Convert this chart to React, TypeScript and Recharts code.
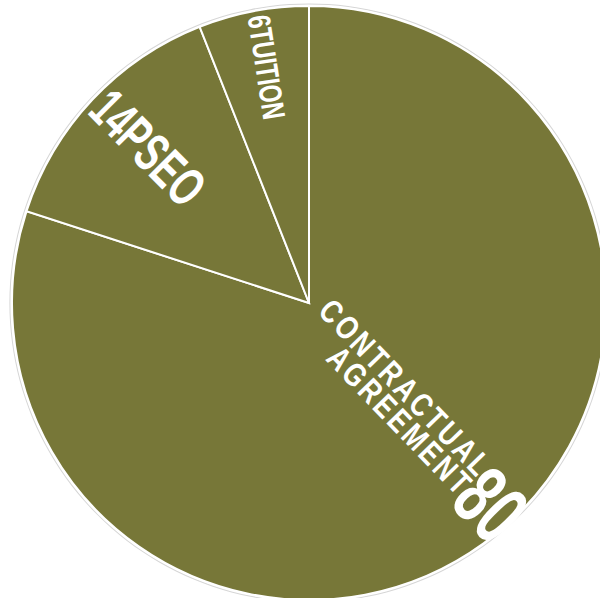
import { PieChart, Pie, Cell } from "recharts";

const categories = ["CONTRACTUAL AGREEMENT", "PSEO", "TUITION"];
const shares = [80, 14, 6];

const rows = categories.map((name, i) => ({ name, value: shares[i] }));
const ring = [{ name: "ring", value: 1 }];

const OLIVE = "#777738";
const FONT = "'Liberation Sans', Arial, sans-serif";

// small nudges so the labels sit like the reference
const rotTweak: Record<string, number> = {
  "CONTRACTUAL AGREEMENT": -8,
  PSEO: 2,
  TUITION: 2,
};

// condensed text: squeeze horizontally inside the rotated frame
const Squeezed = ({ x, y, sx, size, anchor, spacing, children }: any) => (
  <text
    x={x / sx}
    y={y}
    transform={`scale(${sx},1)`}
    fontSize={size}
    letterSpacing={spacing ? spacing / sx : undefined}
    textAnchor={anchor}
  >
    {children}
  </text>
);

const renderLabel = (props: any) => {
  const { cx, cy, midAngle, outerRadius, name, value, percent } = props;
  const big = percent > 0.5;
  const outward = Math.cos((midAngle * Math.PI) / 180) >= 0;
  const rot = (outward ? -midAngle : 180 - midAngle) + (rotTweak[name] ?? 0);

  if (big) {
    const words = String(name).split(" ");
    return (
      <g transform={`translate(${cx},${cy}) rotate(${rot})`} fill="#fff" fontFamily={FONT} fontWeight="bold">
        <Squeezed x={outerRadius - 52} y={1} sx={0.79} size={33} spacing={3} anchor="end">
          {words[0]}
        </Squeezed>
        <Squeezed x={outerRadius - 52} y={28} sx={0.79} size={33} spacing={3} anchor="end">
          {words[1]}
        </Squeezed>
        <Squeezed x={outerRadius - 56} y={39} sx={0.64} size={86} anchor="start">
          {value}
        </Squeezed>
      </g>
    );
  }

  const small = percent < 0.1;
  return (
    <g transform={`translate(${cx},${cy}) rotate(${rot})`} fill="#fff" fontFamily={FONT} fontWeight="bold">
      <Squeezed
        x={-outerRadius + 5}
        y={small ? 17 : 24}
        sx={small ? 0.72 : 0.64}
        size={small ? 32 : 55}
        anchor="start"
      >
        {`${value}${name}`}
      </Squeezed>
    </g>
  );
};

export default function App() {
  return (
    <div style={{ position: "absolute", left: 0, top: 0 }}>
      <PieChart width={600} height={598} margin={{ top: 0, right: 0, bottom: 0, left: 0 }}>
        <Pie
          data={ring}
          dataKey="value"
          cx={309}
          cy={303}
          innerRadius={298.6}
          outerRadius={299.6}
          startAngle={90}
          endAngle={-270}
          stroke="none"
          fill="#d6d6d6"
          isAnimationActive={false}
        />
        <Pie
          data={rows}
          dataKey="value"
          nameKey="name"
          cx={309}
          cy={303}
          outerRadius={297}
          startAngle={90}
          endAngle={-270}
          stroke="#fff"
          strokeWidth={2}
          labelLine={false}
          label={renderLabel}
          isAnimationActive={false}
        >
          {rows.map((r) => (
            <Cell key={r.name} fill={OLIVE} />
          ))}
        </Pie>
      </PieChart>
    </div>
  );
}
